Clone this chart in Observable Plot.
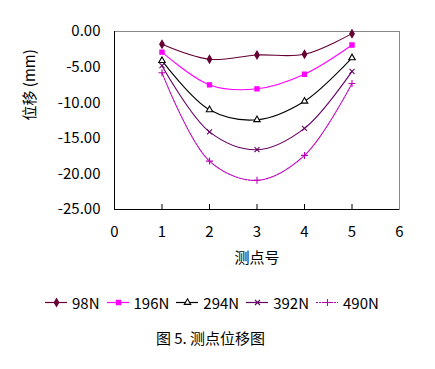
<!DOCTYPE html>
<html><head><meta charset="utf-8">
<script src="https://cdn.jsdelivr.net/npm/d3@7"></script>
<script src="https://cdn.jsdelivr.net/npm/@observablehq/plot@0.6"></script>
<style>
body{margin:0;background:#fff;font-family:"Noto Sans CJK SC",sans-serif;}
#wrap{width:435px;position:relative;}
.legend{display:flex;align-items:center;height:22px;margin-top:11px;padding-left:45px;font-size:15px;color:#000;}
.legend .it{display:flex;align-items:center;margin-right:7px;}
.legend svg{margin-right:5px;}
.cap{text-align:center;font-size:15px;margin-top:14px;padding-right:14px;}
</style></head>
<body><div id="wrap"></div>
<script>
const points = [1, 2, 3, 4, 5];
const seriesNames = ["98N", "196N", "294N", "392N", "490N"];
const v98 = [-1.8, -3.9, -3.3, -3.2, -0.3];
const v196 = [-2.9, -7.5, -8.05, -6.0, -1.9];
const v294 = [-4.1, -11.0, -12.4, -9.8, -3.7];
const v392 = [-4.8, -14.1, -16.6, -13.6, -5.6];
const v490 = [-5.8, -18.2, -20.9, -17.4, -7.3];
const yTicks = [0, -5, -10, -15, -20, -25];
const xTicks = [0, 1, 2, 3, 4, 5, 6];

const colors = ["#660033", "#ff00ff", "#000000", "#660066", "#bb00bb"];
const symbols = ["diamond", "square", "triangle", "times", "plus"];
const fills = [true, true, false, false, false];
const allVals = [v98, v196, v294, v392, v490];
const data = [];
seriesNames.forEach((s, i) => points.forEach((p, j) => data.push({s, i, x: p, y: allVals[i][j]})));

const fillOf = i => fills[i] ? colors[i] : (i === 2 ? "white" : "none");
const lineMarks = [];
seriesNames.forEach((s, i) => {
  const d = data.filter(r => r.s === s);
  lineMarks.push(Plot.line(d, {x: "x", y: "y", curve: "catmull-rom", stroke: colors[i], strokeWidth: 1.1, strokeDasharray: i === 4 ? "2,1" : null}));
  lineMarks.push(Plot.dot(d, {x: "x", y: "y", symbol: symbols[i], r: 2.4,
    fill: fillOf(i), stroke: colors[i], strokeWidth: 1.1}));
});

const chart = Plot.plot({
  width: 435, height: 280,
  marginLeft: 114, marginRight: 36, marginTop: 31, marginBottom: 71,
  style: {fontFamily: '"Noto Sans CJK SC", sans-serif', fontSize: "15px", color: "#000", background: "#fff"},
  x: {domain: [0, 6], label: null},
  y: {domain: [-25, 0], label: null},
  marks: [
    Plot.frame({stroke: "#888"}),
    Plot.ruleX([0], {stroke: "#000"}),
    Plot.ruleY([-25], {stroke: "#000"}),
    Plot.ruleX(points, {y1: -25, y2: -24.3, stroke: "#000"}),
    Plot.axisX({ticks: xTicks, tickSize: 0, tickPadding: 17, tickFormat: d => String(d), label: null}),
    Plot.axisY({ticks: yTicks, tickSize: 0, tickPadding: 14, tickFormat: d => d.toFixed(2), label: null}),
    Plot.text(["测点号"], {frameAnchor: "bottom", dy: 53, fontSize: 15}),
    Plot.text(["位移 (mm)"], {frameAnchor: "left", dx: -84, rotate: -90, fontSize: 15}),
    ...lineMarks
  ]
});
const wrap = document.getElementById("wrap");
wrap.appendChild(chart);

const leg = document.createElement("div");
leg.className = "legend";
seriesNames.forEach((s, i) => {
  const it = document.createElement("span"); it.className = "it";
  const sym = Plot.plot({width: 22, height: 12, margin: 0, axis: null,
    x: {domain: [0, 1]}, y: {domain: [0, 1]},
    marks: [
      Plot.ruleY([0.5], {stroke: colors[i], strokeWidth: 1.2, strokeDasharray: i === 4 ? "2,1" : null}),
      Plot.dot([0.5], {x: d => d, y: 0.5, symbol: symbols[i], r: 2.4,
        fill: fillOf(i), stroke: colors[i], strokeWidth: 1.1})
    ]});
  it.appendChild(sym);
  const t = document.createElement("span"); t.textContent = s;
  it.appendChild(t);
  leg.appendChild(it);
});
wrap.appendChild(leg);
const cap = document.createElement("div");
cap.className = "cap"; cap.textContent = "图 5. 测点位移图";
wrap.appendChild(cap);
</script></body></html>
